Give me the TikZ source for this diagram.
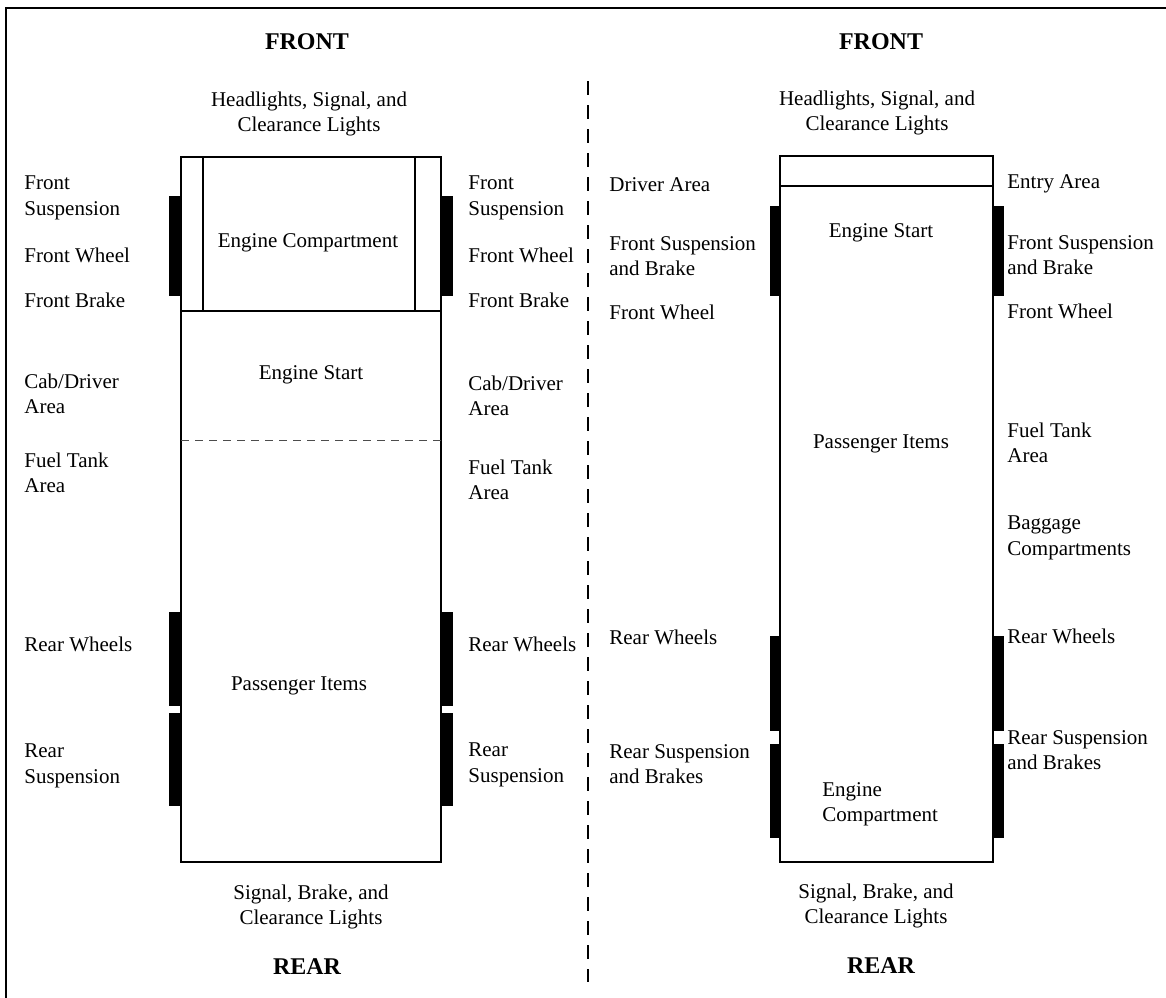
\documentclass[tikz,border=0pt]{standalone}
\usepackage{fontspec}
\setmainfont{Liberation Serif}
\usetikzlibrary{positioning}

\begin{document}
\begin{tikzpicture}[x=0.5pt,y=-0.5pt,
  lbl/.style={font=\fontsize{10.5}{12.7}\selectfont,inner sep=0pt,align=left,anchor=west},
  ctr/.style={font=\fontsize{10.5}{12.7}\selectfont,inner sep=0pt,align=center},
  hdr/.style={font=\fontsize{12}{14}\selectfont\bfseries,inner sep=0pt},
  body/.style={line width=1pt},
  wheel/.style={fill=black}]
  \useasboundingbox (0,0) rectangle (1166,997);
  \draw[line width=1pt] (6,8) rectangle (1180,1010);
  \draw[line width=0.8pt,dash pattern=on 7pt off 5pt] (588,81) -- (588,982);

  % left vehicle
  \draw[body] (181,157) rectangle (441,862);
  \draw[line width=0.7pt] (203,157) -- (203,311) (415,157) -- (415,311);
  \draw[line width=1.2pt] (181,311) -- (441,311);
  \draw[line width=0.4pt,black!70,dash pattern=on 4pt off 3pt] (181,440) -- (441,440);
  \foreach \ya/\yb in {196/296,612/706,713/806}{
    \fill[wheel] (169,\ya) rectangle (181,\yb);
    \fill[wheel] (441,\ya) rectangle (453,\yb);
  }
  \node[hdr] (frontL) at (307,42) {FRONT};
  \node[ctr] (lightsL) at (309,114) {Headlights, Signal, and\\Clearance Lights};
  \node[ctr] (engL) at (308,243) {Engine Compartment};
  \node[ctr] (startL) at (311,375) {Engine Start};
  \node[ctr] (passL) at (299,686) {Passenger Items};
  \node[ctr] (rlightsL) at (311,907) {Signal, Brake, and\\Clearance Lights};
  \node[hdr] (rearL) at (307,967) {REAR};

  \node[lbl] (fsL) at (24,198) {Front\\Suspension};
  \node[lbl] (fwL) at (24,255) {Front Wheel};
  \node[lbl] (fbL) at (24,300) {Front Brake};
  \node[lbl] (cabL) at (24,394) {Cab/Driver\\Area};
  \node[lbl] (fuelL) at (24,473) {Fuel Tank\\Area};
  \node[lbl] (rwL) at (24,644) {Rear Wheels};
  \node[lbl] (rsL) at (24,766) {Rear\\Suspension};

  \node[lbl] (fsR) at (468,198) {Front\\Suspension};
  \node[lbl] (fwR) at (468,255) {Front Wheel};
  \node[lbl] (fbR) at (468,300) {Front Brake};
  \node[lbl] (cabR) at (468,396) {Cab/Driver\\Area};
  \node[lbl] (fuelR) at (468,480) {Fuel Tank\\Area};
  \node[lbl] (rwR) at (468,644) {Rear Wheels};
  \node[lbl] (rsR) at (468,765) {Rear\\Suspension};

  % right vehicle
  \draw[body] (780,156) rectangle (993,862);
  \draw[line width=0.8pt] (780,186) -- (993,186);
  \foreach \ya/\yb in {206/296,636/731,744/838}{
    \fill[wheel] (770,\ya) rectangle (780,\yb);
    \fill[wheel] (993,\ya) rectangle (1004,\yb);
  }
  \node[hdr] (frontR) at (881,42) {FRONT};
  \node[ctr] (lightsR) at (877,113) {Headlights, Signal, and\\Clearance Lights};
  \node[ctr] (startR) at (881,233) {Engine Start};
  \node[ctr] (passR) at (881,444) {Passenger Items};
  \node[lbl] (engR) at (822,804) {Engine\\Compartment};
  \node[ctr] (rlightsR) at (876,906) {Signal, Brake, and\\Clearance Lights};
  \node[hdr] (rearR) at (881,966) {REAR};

  \node[lbl] (drvB) at (609,185) {Driver Area};
  \node[lbl] (fsbB) at (609,256) {Front Suspension\\and Brake};
  \node[lbl] (fwB) at (609,312) {Front Wheel};
  \node[lbl] (rwB) at (609,637) {Rear Wheels};
  \node[lbl] (rsbB) at (609,764) {Rear Suspension\\and Brakes};

  \node[lbl] (entE) at (1007,184) {Entry Area};
  \node[lbl] (fsbE) at (1007,255) {Front Suspension\\and Brake};
  \node[lbl] (fwE) at (1007,311) {Front Wheel};
  \node[lbl] (fuelE) at (1007,443) {Fuel Tank\\Area};
  \node[lbl] (bagE) at (1007,538) {Baggage\\Compartments};
  \node[lbl] (rwE) at (1007,636) {Rear Wheels};
  \node[lbl] (rsbE) at (1007,750) {Rear Suspension\\and Brakes};
\end{tikzpicture}
\end{document}
